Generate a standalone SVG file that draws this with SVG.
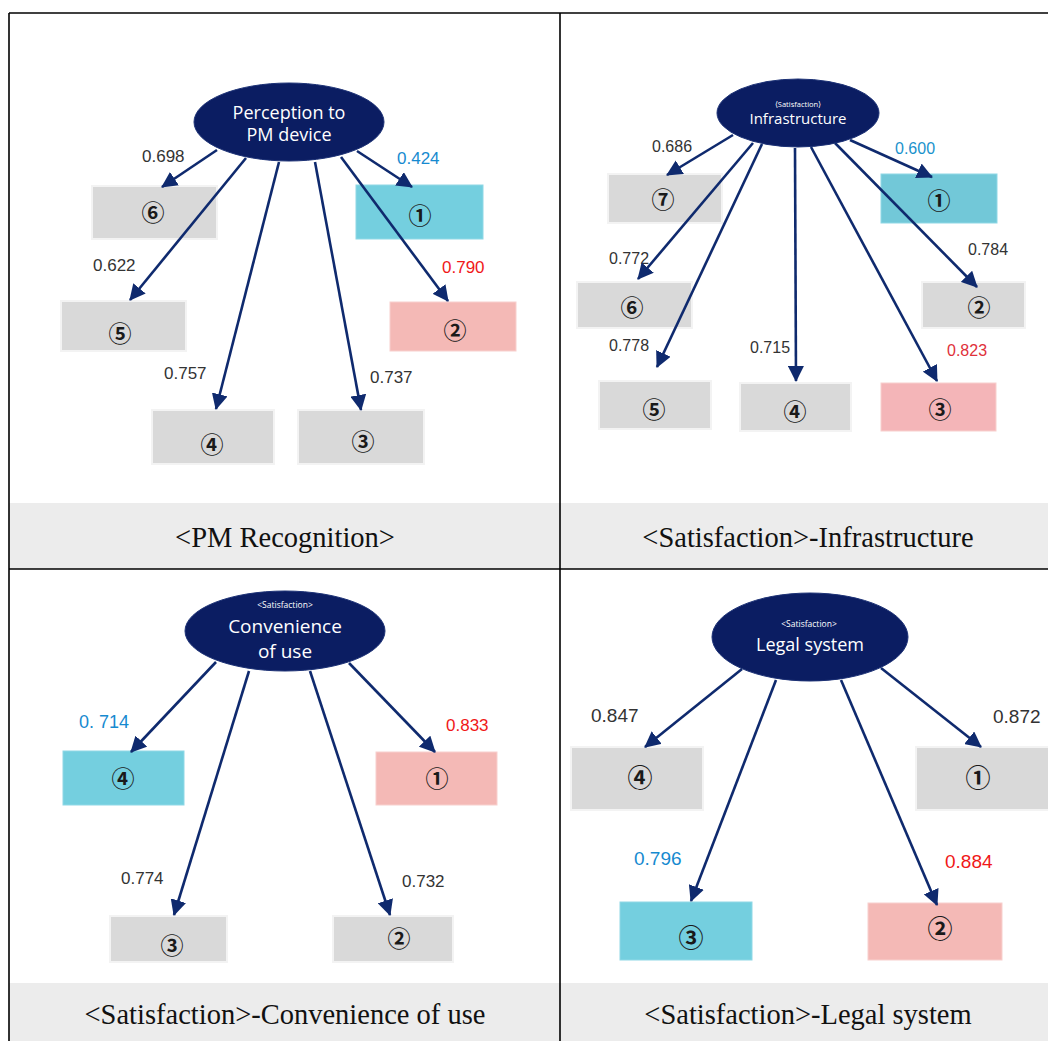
<svg xmlns="http://www.w3.org/2000/svg" width="1048" height="1041" viewBox="0 0 1048 1041">
  <defs>
    <marker id="ah" viewBox="0 0 16 16" refX="15" refY="8" markerWidth="16" markerHeight="16" markerUnits="userSpaceOnUse" orient="auto">
      <path d="M0,0 L16,8 L0,16 Z" fill="#0f2a6e"/>
    </marker>
    <style>
      .band{fill:#ececec}
      .grid{stroke:#000;stroke-width:1.6;fill:none}
      .oval{fill:#0b1d62;stroke:#1d3276;stroke-width:1}
      .otx{font-family:"Open Sans","Noto Sans",sans-serif;fill:#fff;text-anchor:middle}
      .gray{fill:#d9d9d9;stroke:#f3f3f3;stroke-width:2}
      .cyan{fill:#74cfdf;stroke:#8fd8e6;stroke-width:1}
      .pink{fill:#f4b9b6;stroke:#f8d0ce;stroke-width:1}
      .num{font-family:"Noto Sans CJK JP","DejaVu Sans",sans-serif;font-size:23px;font-weight:700;fill:#1a1a1a;text-anchor:middle}
      .val{font-family:"Liberation Sans",Arial,sans-serif;font-size:17px;fill:#333}
      .blue{fill:#168ad0}
      .red{fill:#f01818}
      .cap{font-family:"Liberation Serif","Times New Roman",serif;font-size:28.5px;fill:#111;text-anchor:middle}
      .edge{stroke:#0f2a6e;stroke-width:2.6;fill:none;marker-end:url(#ah)}
    </style>
  </defs>

  <rect width="1048" height="1041" fill="#fff"/>

  <!-- caption bands -->
  <rect class="band" x="9" y="503" width="1039" height="66"/>
  <rect class="band" x="9" y="983" width="1039" height="58"/>

  <!-- table rules -->
  <g id="table">
    <line class="grid" x1="9" y1="13" x2="1048" y2="13"/>
    <line class="grid" x1="9" y1="569" x2="1048" y2="569"/>
    <line class="grid" x1="9" y1="13" x2="9" y2="1041"/>
    <line class="grid" x1="560" y1="13" x2="560" y2="1041"/>
  </g>

  <!-- panel: PM recognition -->
  <g id="pm-latent">
    <ellipse class="oval" cx="289" cy="122" rx="95" ry="39"/>
    <text class="otx" x="289" y="119" font-size="18">Perception to</text>
    <text class="otx" x="289" y="141" font-size="18">PM device</text>
  </g>
  <g id="pm-6"><rect class="gray" x="92" y="186" width="125" height="53"/><text class="num" x="153" y="221">⑥</text></g>
  <g id="pm-1"><rect class="cyan" x="356" y="185" width="127" height="54"/><text class="num" x="420" y="224">①</text></g>
  <g id="pm-5"><rect class="gray" x="61" y="301" width="125" height="50"/><text class="num" x="120" y="342">⑤</text></g>
  <g id="pm-2"><rect class="pink" x="390" y="302" width="126" height="49"/><text class="num" x="455" y="339">②</text></g>
  <g id="pm-4"><rect class="gray" x="152" y="410" width="122" height="54"/><text class="num" x="212" y="453">④</text></g>
  <g id="pm-3"><rect class="gray" x="298" y="410" width="126" height="54"/><text class="num" x="363" y="450">③</text></g>
  <g id="pm-values">
    <text class="val" x="142" y="162">0.698</text>
    <text class="val blue" x="397" y="164">0.424</text>
    <text class="val" x="93" y="271">0.622</text>
    <text class="val red" x="442" y="273">0.790</text>
    <text class="val" x="164" y="379">0.757</text>
    <text class="val" x="370" y="383">0.737</text>
  </g>
  <text class="cap" x="285" y="547">&lt;PM Recognition&gt;</text>

  <!-- panel: Satisfaction - Infrastructure -->
  <g id="inf-latent">
    <ellipse class="oval" cx="798" cy="113" rx="81" ry="34"/>
    <text class="otx" x="798" y="107" style="font-size:7.5px">⟨Satisfaction⟩</text>
    <text class="otx" x="798" y="124" font-size="15">Infrastructure</text>
  </g>
  <g id="inf-7"><rect class="gray" x="608" y="174" width="114" height="49"/><text class="num" x="663" y="208">⑦</text></g>
  <g id="inf-1"><rect class="cyan" x="881" y="174" width="116" height="49" style="fill:#72c8d8"/><text class="num" x="939" y="209">①</text></g>
  <g id="inf-6"><rect class="gray" x="577" y="282" width="115" height="46"/><text class="num" x="632" y="316">⑥</text></g>
  <g id="inf-2"><rect class="gray" x="922" y="282" width="103" height="46"/><text class="num" x="979" y="316">②</text></g>
  <g id="inf-5"><rect class="gray" x="599" y="381" width="112" height="48"/><text class="num" x="654" y="418">⑤</text></g>
  <g id="inf-4"><rect class="gray" x="740" y="383" width="111" height="48"/><text class="num" x="795" y="420">④</text></g>
  <g id="inf-3"><rect class="pink" x="881" y="383" width="115" height="48" style="fill:#f4b5b8"/><text class="num" x="940" y="418">③</text></g>
  <g id="inf-values">
    <text class="val" x="652" y="152" style="font-size:16px">0.686</text>
    <text class="val" x="895" y="154" style="font-size:16px;fill:#1a92cc">0.600</text>
    <text class="val" x="609" y="264" style="font-size:16px">0.772</text>
    <text class="val" x="968" y="255" style="font-size:16px">0.784</text>
    <text class="val" x="609" y="351" style="font-size:16px">0.778</text>
    <text class="val" x="750" y="353" style="font-size:16px">0.715</text>
    <text class="val" x="947" y="356" style="font-size:16px;fill:#e0303a">0.823</text>
  </g>
  <text class="cap" x="808" y="547">&lt;Satisfaction&gt;-Infrastructure</text>

  <!-- panel: Satisfaction - Convenience of use -->
  <g id="conv-latent">
    <ellipse class="oval" cx="285" cy="631" rx="100" ry="40"/>
    <text class="otx" x="285" y="608" style="font-size:8.5px">&lt;Satisfaction&gt;</text>
    <text class="otx" x="285" y="633" font-size="19">Convenience</text>
    <text class="otx" x="285" y="658" font-size="19">of use</text>
  </g>
  <g id="conv-4"><rect class="cyan" x="63" y="751" width="121" height="54"/><text class="num" x="123" y="787">④</text></g>
  <g id="conv-1"><rect class="pink" x="376" y="752" width="121" height="53"/><text class="num" x="437" y="787">①</text></g>
  <g id="conv-3"><rect class="gray" x="110" y="916" width="117" height="46"/><text class="num" x="172" y="954">③</text></g>
  <g id="conv-2"><rect class="gray" x="333" y="916" width="120" height="46"/><text class="num" x="399" y="947">②</text></g>
  <g id="conv-values">
    <text class="val blue" x="79" y="728" style="font-size:18px">0. 714</text>
    <text class="val red" x="446" y="731">0.833</text>
    <text class="val" x="121" y="884">0.774</text>
    <text class="val" x="402" y="887">0.732</text>
  </g>
  <text class="cap" x="285" y="1024">&lt;Satisfaction&gt;-Convenience of use</text>

  <!-- panel: Satisfaction - Legal system -->
  <g id="legal-latent">
    <ellipse class="oval" cx="810" cy="637" rx="98" ry="44"/>
    <text class="otx" x="809" y="627" style="font-size:8.5px">&lt;Satisfaction&gt;</text>
    <text class="otx" x="810" y="651" font-size="18">Legal system</text>
  </g>
  <g id="legal-4"><rect class="gray" x="571" y="747" width="132" height="63"/><text class="num" x="640" y="787" style="font-size:25px">④</text></g>
  <g id="legal-1"><rect class="gray" x="916" y="747" width="140" height="63"/><text class="num" x="978" y="787" style="font-size:25px">①</text></g>
  <g id="legal-3"><rect class="cyan" x="620" y="902" width="132" height="58"/><text class="num" x="691" y="947" style="font-size:25px">③</text></g>
  <g id="legal-2"><rect class="pink" x="868" y="903" width="134" height="57"/><text class="num" x="940" y="938" style="font-size:25px">②</text></g>
  <g id="legal-values">
    <text class="val" x="591" y="722" style="font-size:19px">0.847</text>
    <text class="val" x="993" y="723" style="font-size:19px">0.872</text>
    <text class="val blue" x="634" y="865" style="font-size:19px">0.796</text>
    <text class="val red" x="945" y="868" style="font-size:19px">0.884</text>
  </g>
  <text class="cap" x="808" y="1024">&lt;Satisfaction&gt;-Legal system</text>

  <!-- connectors, drawn over the boxes -->
  <g id="connectors">
    <!-- PM recognition -->
    <line class="edge" x1="217" y1="150" x2="162" y2="187"/>
    <line class="edge" x1="357" y1="151" x2="412" y2="187"/>
    <line class="edge" x1="246" y1="158" x2="130" y2="300"/>
    <line class="edge" x1="279" y1="162" x2="216" y2="409"/>
    <line class="edge" x1="315" y1="162" x2="361" y2="410"/>
    <line class="edge" x1="341" y1="157" x2="448" y2="301"/>
    <!-- Infrastructure -->
    <line class="edge" x1="733" y1="135" x2="667" y2="175"/>
    <line class="edge" x1="850" y1="140" x2="932" y2="177"/>
    <line class="edge" x1="753" y1="143" x2="638" y2="279"/>
    <line class="edge" x1="762" y1="144" x2="657" y2="367"/>
    <line class="edge" x1="795" y1="148" x2="796" y2="381"/>
    <line class="edge" x1="811" y1="147" x2="937" y2="381"/>
    <line class="edge" x1="835" y1="143" x2="977" y2="287"/>
    <!-- Convenience of use -->
    <line class="edge" x1="216" y1="662" x2="131" y2="752"/>
    <line class="edge" x1="349" y1="663" x2="435" y2="752"/>
    <line class="edge" x1="249" y1="671" x2="174" y2="915"/>
    <line class="edge" x1="310" y1="671" x2="390" y2="915"/>
    <!-- Legal system -->
    <line class="edge" x1="742" y1="669" x2="645" y2="747"/>
    <line class="edge" x1="881" y1="668" x2="981" y2="747"/>
    <line class="edge" x1="776" y1="680" x2="691" y2="901"/>
    <line class="edge" x1="841" y1="680" x2="937" y2="905"/>
  </g>
</svg>
